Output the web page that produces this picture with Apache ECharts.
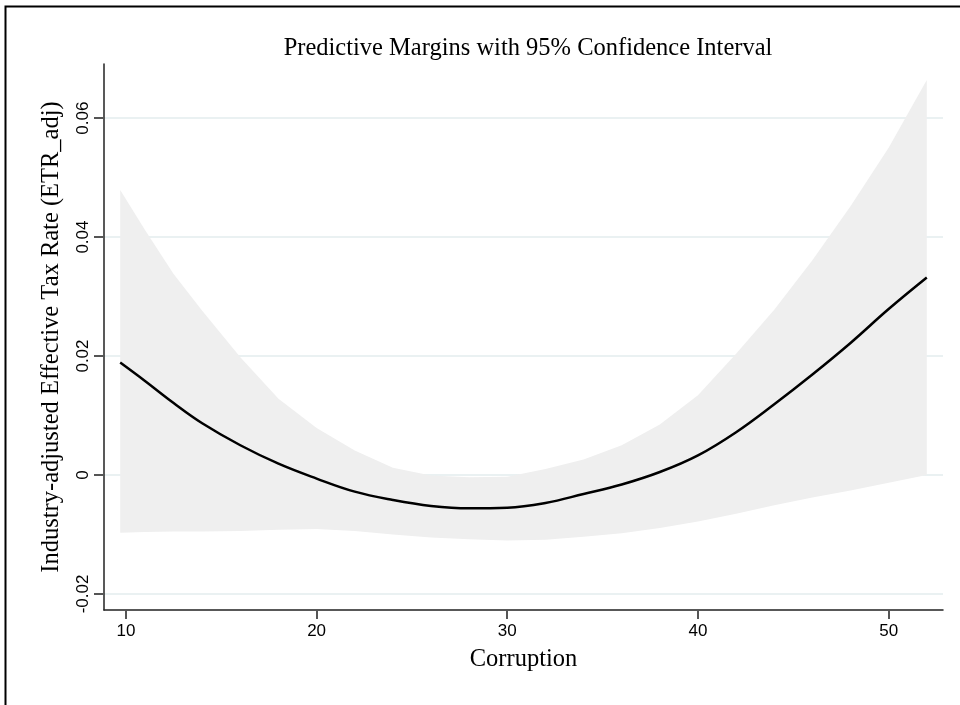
<!DOCTYPE html>
<html>
<head>
<meta charset="utf-8">
<script src="https://cdn.jsdelivr.net/npm/echarts@6/dist/echarts.min.js"></script>
<style>
  html, body { margin: 0; padding: 0; background: #fff; }
  #chart { width: 960px; height: 705px; }
</style>
</head>
<body>
<div id="chart"></div>
<script>
// corruption values (x)
const corruption = [9.7, 11, 12.5, 14, 16, 18, 20, 22, 24, 26, 28, 30, 32, 34, 36, 38, 40, 42, 44, 46, 48, 50, 52];
// predicted margin
const margin = [0.0189, 0.0158, 0.0121, 0.0087, 0.0050, 0.0019, -0.0006, -0.0028, -0.0042, -0.0052, -0.0056, -0.0055,
  -0.0047, -0.0032, -0.0016, 0.0005, 0.0033, 0.0072, 0.0119, 0.0169, 0.0222, 0.0279, 0.0332];
// 95% CI bounds
const upper = [0.0479, 0.0412, 0.0338, 0.0276, 0.0198, 0.0128, 0.0079, 0.0041, 0.0012, -0.0001, -0.0004, -0.0003,
  0.0010, 0.0026, 0.0050, 0.0085, 0.0134, 0.0204, 0.0278, 0.0361, 0.0452, 0.0550, 0.0664];
const lower = [-0.0097, -0.0096, -0.0095, -0.0095, -0.0094, -0.0092, -0.0091, -0.0094, -0.0100, -0.0105, -0.0108, -0.0110,
  -0.0109, -0.0104, -0.0098, -0.0089, -0.0078, -0.0065, -0.0051, -0.0038, -0.0026, -0.0013, 0.0];
const xTicks = [10, 20, 30, 40, 50];
const yTicks = [-0.02, 0, 0.02, 0.04, 0.06];

const xMin = 8.85, xMax = 52.85;
const yMin = -0.0227, yMax = 0.0691;

const serif = 'Liberation Serif';
const sans = 'Liberation Sans';
const chart = echarts.init(document.getElementById('chart'));

const lineData = corruption.map((x, i) => [x, margin[i]]);

// CI band as one polygon: along the upper bound, then back along the lower bound
function renderBand(params, api) {
  const pts = [];
  corruption.forEach((x, i) => pts.push(api.coord([x, upper[i]])));
  for (let i = corruption.length - 1; i >= 0; i--) pts.push(api.coord([corruption[i], lower[i]]));
  return {
    type: 'polygon',
    shape: { points: pts },
    style: { fill: '#efefef', stroke: 'none' }
  };
}

// outer frame of the graph region
const frame = {
  type: 'polyline', silent: true,
  shape: { points: [[5.5, 720], [5.5, 6.5], [970, 6.5]] },
  style: { stroke: '#000', lineWidth: 2, fill: null }
};

chart.setOption({
  animation: false,
  backgroundColor: '#fff',
  title: {
    text: 'Predictive Margins with 95% Confidence Interval',
    left: 523, top: 31, textAlign: 'center',
    textStyle: { fontFamily: serif, fontSize: 24.5, fontWeight: 'normal', color: '#000' }
  },
  grid: { left: 104, right: 17, top: 64, bottom: 95 },
  xAxis: {
    type: 'value', min: xMin, max: xMax,
    name: 'Corruption', nameLocation: 'middle', nameGap: 37,
    nameTextStyle: { fontFamily: serif, fontSize: 24.5, color: '#000' },
    axisLine: { show: true, onZero: false, lineStyle: { color: '#222', width: 1.5 } },
    axisTick: { show: false },
    axisLabel: { customValues: xTicks, margin: 13, fontFamily: sans, fontSize: 17, color: '#000' },
    splitLine: { show: false }
  },
  yAxis: {
    type: 'value', min: yMin, max: yMax,
    name: 'Industry-adjusted Effective Tax Rate (ETR_adj)', nameLocation: 'middle', nameGap: 40,
    nameTextStyle: { fontFamily: serif, fontSize: 24.5, color: '#000' },
    axisLine: { show: true, onZero: false, lineStyle: { color: '#222', width: 1.5 } },
    axisTick: { show: false, customValues: yTicks },
    axisLabel: {
      customValues: yTicks, rotate: 90, margin: 12, fontFamily: sans, fontSize: 17, color: '#000',
      formatter: v => String(+(+v).toFixed(2))
    },
    splitLine: { show: true, lineStyle: { color: '#eaf1f2', width: 2 } }
  },
  series: [
    {
      type: 'custom', renderItem: renderBand, data: [0], silent: true, z: 1
    },
    {
      type: 'line', data: lineData, symbol: 'none', smooth: 0.4,
      lineStyle: { color: '#000', width: 2.5 }, z: 5
    }
  ]
});

// outward tick marks, placed with the chart's own scales
const extra = [frame];
xTicks.forEach(v => {
  const p = chart.convertToPixel({ gridIndex: 0 }, [v, yMin]);
  extra.push({ type: 'rect', silent: true, z: 10,
    shape: { x: Math.round(p[0]) - 1, y: Math.round(p[1]), width: 2, height: 9 },
    style: { fill: '#555' } });
});
yTicks.forEach(v => {
  const p = chart.convertToPixel({ gridIndex: 0 }, [xMin, v]);
  extra.push({ type: 'rect', silent: true, z: 10,
    shape: { x: Math.round(p[0]) - 10, y: Math.round(p[1]) - 1, width: 10, height: 2 },
    style: { fill: '#555' } });
});
chart.setOption({ graphic: { elements: extra } });
</script>
</body>
</html>
